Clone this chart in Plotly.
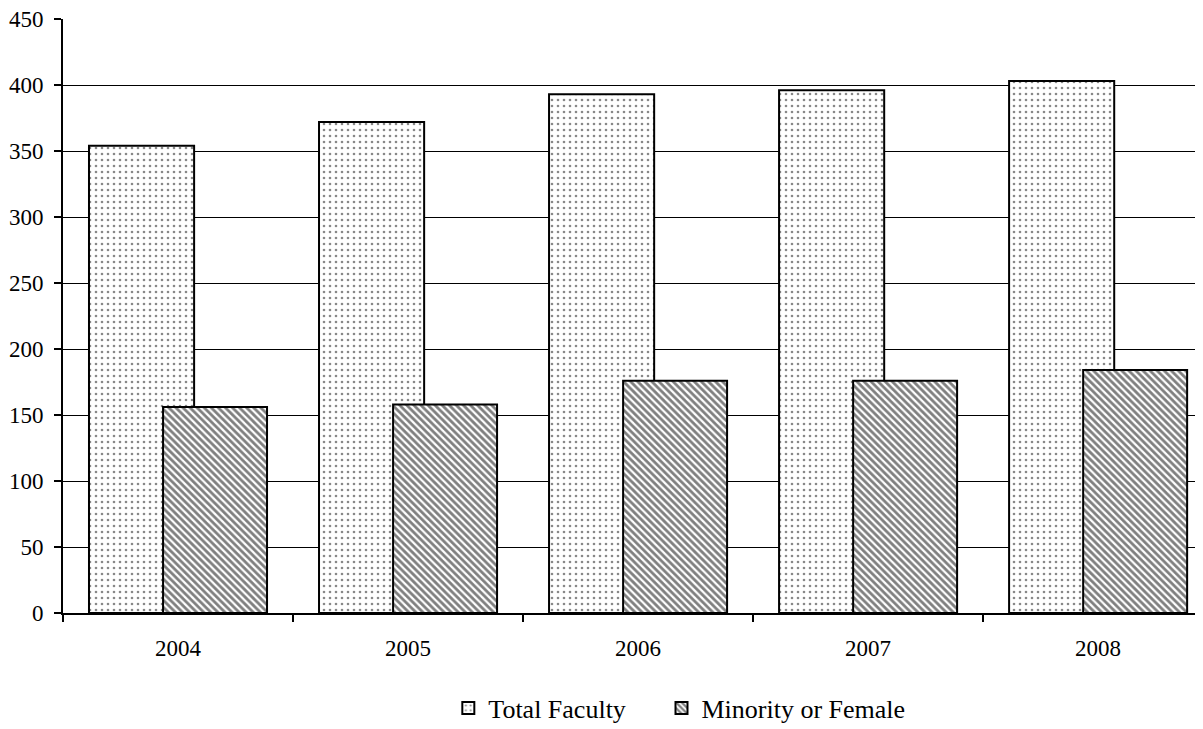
import plotly.graph_objects as go

years = ["2004", "2005", "2006", "2007", "2008"]
total_faculty = [354, 372, 393, 396, 403]
minority_female = [156, 158, 176, 176, 184]
y_ticks = [0, 50, 100, 150, 200, 250, 300, 350, 400, 450]

FONT = "Liberation Serif, Times New Roman, serif"

fig = go.Figure()
fig.add_trace(go.Bar(
    x=years, y=total_faculty, name="Total Faculty",
    width=0.457, offset=-0.387, legend="legend",
    marker=dict(color="white",
                line=dict(color="black", width=2),
                pattern=dict(shape=".", fgcolor="#111111", bgcolor="white",
                             size=6, solidity=0.15, fillmode="overlay")),
))
fig.add_trace(go.Bar(
    x=years, y=minority_female, name="Minority or Female",
    width=0.452, offset=-0.065, legend="legend2",
    marker=dict(color="white",
                line=dict(color="black", width=2),
                pattern=dict(shape="\\", fgcolor="black", bgcolor="white",
                             size=5, solidity=0.55, fillmode="overlay")),
))

leg_common = dict(orientation="h", yref="container", y=1 - 700 / 721,
                  yanchor="middle", xanchor="left",
                  font=dict(family=FONT, size=26, color="black"),
                  bgcolor="rgba(0,0,0,0)")

# page body has an 8px margin, so the figure is shrunk by 8px and margins shifted
fig.update_layout(
    width=1195, height=721,
    barmode="overlay",
    margin=dict(l=55, r=0, t=11, b=116),
    paper_bgcolor="white", plot_bgcolor="white",
    font=dict(family=FONT, size=23, color="black"),
    showlegend=True,
    legend=dict(x=0.338, **leg_common),
    legend2=dict(x=0.525, **leg_common),
    xaxis=dict(type="category", range=[-0.5, 4.456], automargin=False,
               showline=True, linecolor="black", linewidth=2,
               ticks="outside", ticklen=7, tickwidth=2, tickcolor="black",
               tickson="boundaries", showgrid=False,
               tickfont=dict(family=FONT, size=23), ticklabelstandoff=13,
               ticklabeloverflow="allow"),
    yaxis=dict(range=[0, 450], tickvals=y_ticks, automargin=False,
               showline=True, linecolor="black", linewidth=2,
               ticks="outside", ticklen=7, tickwidth=2, tickcolor="black",
               showgrid=True, gridcolor="black", gridwidth=1,
               zeroline=False,
               tickfont=dict(family=FONT, size=23), ticklabelstandoff=6,
               ticklabeloverflow="allow"),
)

fig.write_html("out.html")
